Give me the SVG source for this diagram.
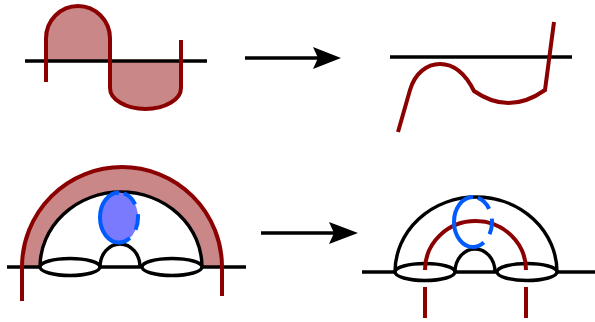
<svg xmlns="http://www.w3.org/2000/svg" width="595" height="322" viewBox="0 0 595 322">
<style>
.blk{fill:none;stroke:#000;stroke-width:3.4}
.red{fill:none;stroke:#8b0000;stroke-width:4}
.pink{fill:#c98787;stroke:none}
.ell{fill:#fff;stroke:#000;stroke-width:3.4}
.blue{fill:none;stroke:#005bff;stroke-width:4}
.dash{stroke-dasharray:16 10;stroke-dashoffset:21}
</style>
<g id="top-left">
<path class="pink" d="M46,61 L46,38.5 A32,32.5 0 0 1 110,38.5 L110,61 Z"/>
<path class="pink" d="M110,61 L110,88 A35.5,21 0 0 0 181,88 L181,61 Z"/>
<line class="blk" x1="25" y1="61" x2="207" y2="61"/>
<path class="red" d="M46,82 L46,38.5 A32,32.5 0 0 1 110,38.5 L110,88 A35.5,21 0 0 0 181,88 L181,40"/>
</g>
<g id="top-right">
<line class="blk" x1="390" y1="57" x2="572" y2="57"/>
<path class="red" d="M398,132 L410,90 C415,73 427,64 440,64 C455,64 466,75 474,91 Q509,115.5 545,90 L554,22"/>
</g>
<g id="bottom-left">
<path class="pink" d="M22,267 A100,100 0 0 1 222,267 L202,267 A81,75 0 0 0 40,267 Z"/>
<line class="blk" x1="7" y1="267" x2="246" y2="267"/>
<path class="red" d="M22,301 L22,267 A100,100 0 0 1 222,267 L222,296"/>
<path class="blk" d="M40,267 A81,75 0 0 1 202,267"/>
<ellipse class="ell" cx="70" cy="267" rx="30" ry="8.5"/>
<ellipse class="ell" cx="172" cy="267" rx="30" ry="8.5"/>
<path class="blk" d="M100,267 A20,23 0 0 1 140,267"/>
<ellipse cx="119" cy="217.5" rx="19" ry="25" fill="#7a7aff"/>
<path class="blue" d="M119,192.5 A19,25 0 0 0 119,242.5"/>
<path class="blue dash" d="M119,192.5 A19,25 0 0 1 119,242.5"/>
</g>
<g id="bottom-right">
<line class="blk" x1="362" y1="272" x2="595" y2="272"/>
<path class="blk" d="M395,272 A81,75 0 0 1 557,272"/>
<ellipse class="ell" cx="425" cy="272" rx="30" ry="8.5"/>
<ellipse class="ell" cx="527" cy="272" rx="30" ry="8.5"/>
<path class="blk" d="M455,272 A20,23 0 0 1 495,272"/>
<path class="red" d="M425,270 A50.5,49 0 0 1 526,270"/>
<line class="red" x1="425" y1="287" x2="425" y2="318"/>
<line class="red" x1="526" y1="287" x2="526" y2="318"/>
<path class="blue" d="M473,197 A19,25 0 0 0 473,247"/>
<path class="blue dash" d="M473,197 A19,25 0 0 1 473,247"/>
</g>
<g id="connectors">
<line class="blk" x1="245" y1="58" x2="318" y2="58"/>
<polygon points="341,58 313,47 318,58 313,69" fill="#000"/>
<line class="blk" x1="261" y1="233" x2="335" y2="233"/>
<polygon points="358,233 329,222 334,233 329,244" fill="#000"/>
</g>
</svg>
